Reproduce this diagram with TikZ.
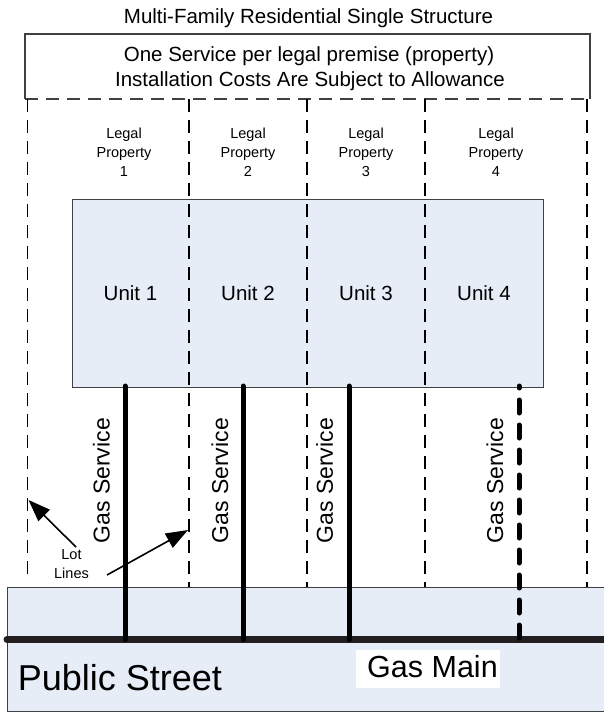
\documentclass[tikz,border=0pt]{standalone}
\usepackage{fontspec}
\setmainfont{Liberation Sans}
\usetikzlibrary{arrows.meta}
\definecolor{paleblue}{RGB}{230,237,247}
\definecolor{mainblack}{RGB}{35,31,32}
\definecolor{edgegray}{RGB}{64,64,64}
\tikzset{
  lotline/.style={line width=1.4pt, dash pattern=on 13pt off 8pt},
  boxedge/.style={draw=edgegray, line width=1.1pt},
  service/.style={line width=5pt, line cap=round, draw=black},
  propservice/.style={service, dash pattern=on 13pt off 12pt, dash phase=11pt},
  lotarrow/.style={line width=1.6pt, -{Triangle[length=22pt,width=16pt]}},
  bigtext/.style={font=\fontsize{20.5}{25}\selectfont, inner sep=0pt},
  smalltext/.style={font=\fontsize{14.5}{19}\selectfont, inner sep=0pt, align=center},
  gastext/.style={font=\fontsize{23}{27}\selectfont, inner sep=0pt, rotate=90},
}
\begin{document}
\begin{tikzpicture}[x=1pt,y=-1pt]
\useasboundingbox (0,0) rectangle (604,713);

% title and top box
\node[bigtext, anchor=base] (title) at (308.5,23.3) {Multi-Family Residential Single Structure};
\draw[boxedge] (25,99) -- (25,34) -- (590,34) -- (590,99);
\draw[lotline, draw=edgegray] (25,99) -- (590,99);
\node[bigtext, anchor=base] (rule1) at (309,61) {One Service per legal premise (property)};
\node[bigtext, anchor=base] (rule2) at (310,86) {Installation Costs Are Subject to Allowance};

% legal property labels
\node[smalltext] (lp1) at (124,152.7) {Legal\\Property\\1};
\node[smalltext] (lp2) at (248,152.7) {Legal\\Property\\2};
\node[smalltext] (lp3) at (366,152.7) {Legal\\Property\\3};
\node[smalltext] (lp4) at (496,152.7) {Legal\\Property\\4};

% units building
\node[boxedge, fill=paleblue, minimum width=471pt, minimum height=188pt, inner sep=0pt, anchor=north west] (units) at (72,199) {};
\node[bigtext, anchor=base] (u1) at (130.5,300) {Unit 1};
\node[bigtext, anchor=base] (u2) at (248,300) {Unit 2};
\node[bigtext, anchor=base] (u3) at (366,300) {Unit 3};
\node[bigtext, anchor=base] (u4) at (484,300) {Unit 4};

% street
\node[boxedge, fill=paleblue, minimum width=620pt, minimum height=124pt, inner sep=0pt, anchor=north west] (street) at (7,587) {};

% lot lines
\coordinate (lt0) at (27.5,99);  \coordinate (lb0) at (27.5,580);
\coordinate (lt1) at (189,99);   \coordinate (lb1) at (189,587);
\coordinate (lt2) at (307,99);   \coordinate (lb2) at (307,587);
\coordinate (lt3) at (425,99);   \coordinate (lb3) at (425,587);
\coordinate (lt4) at (587,99);   \coordinate (lb4) at (587,587);
\foreach \i in {0,...,4} { \draw[lotline] (lt\i) -- (lb\i); }

% gas main
\coordinate (mainL) at (7,639.5);
\coordinate (mainR) at (615,639.5);
\draw[line width=7pt, line cap=round, draw=mainblack] (mainL) -- (mainR);

% gas services
\coordinate (s1t) at (125,386); \coordinate (s1b) at (125,639.5);
\coordinate (s2t) at (243,386); \coordinate (s2b) at (243,639.5);
\coordinate (s3t) at (349,386); \coordinate (s3b) at (349,639.5);
\coordinate (s4t) at (519,386); \coordinate (s4b) at (519,639.5);
\draw[service] (s1t) -- (s1b);
\draw[service] (s2t) -- (s2b);
\draw[service] (s3t) -- (s3b);
\draw[propservice] (s4t) -- (s4b);

\node[gastext] (g1) at (101.3,480.8) {Gas Service};
\node[gastext] (g2) at (220,480.8) {Gas Service};
\node[gastext] (g3) at (324.7,480.8) {Gas Service};
\node[gastext] (g4) at (495,480.8) {Gas Service};

% lot lines label and arrows
\node[smalltext] (lotlbl) at (71.5,564.4) {Lot\\Lines};
\coordinate (a1s) at (76,547);  \coordinate (a1e) at (28.5,500);
\coordinate (a2s) at (107,575); \coordinate (a2e) at (188,530);
\draw[lotarrow] (a1s) -- (a1e);
\draw[lotarrow] (a2s) -- (a2e);

% street labels
\node[fill=white, minimum width=144pt, minimum height=38pt, inner sep=0pt] (gmbox) at (428,669) {};
\node[font=\fontsize{30.5}{36}\selectfont, inner sep=0pt, anchor=base] (gasmain) at (432.5,677.3) {Gas Main};
\node[font=\fontsize{36}{42}\selectfont, inner sep=0pt, anchor=base] (pubst) at (120,690) {Public Street};
\end{tikzpicture}
\end{document}
